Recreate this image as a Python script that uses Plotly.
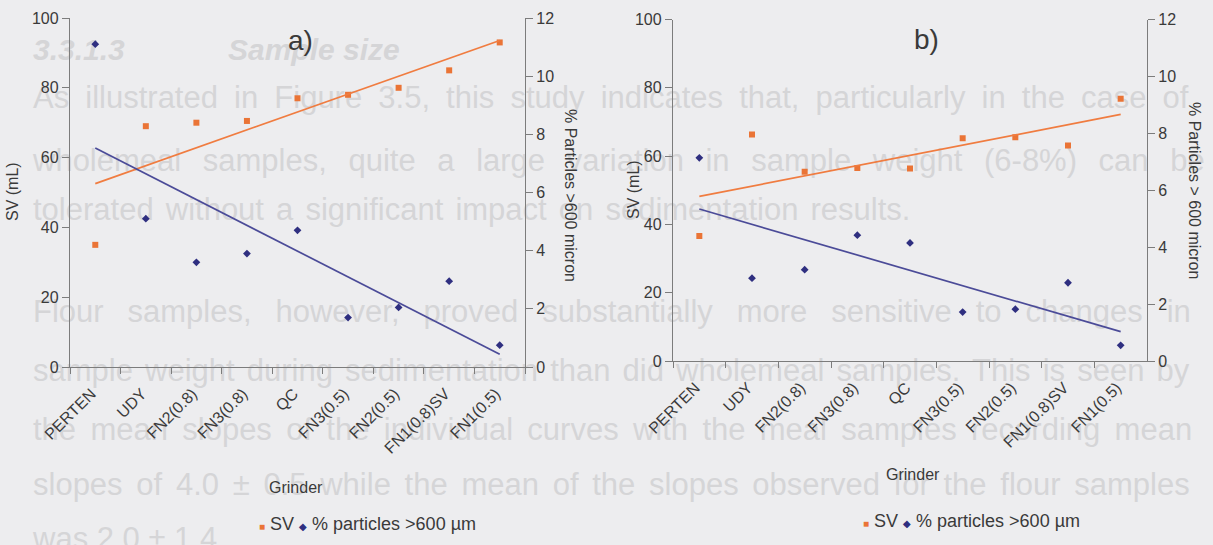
import numpy as np
import plotly.graph_objects as go

# ---- data -------------------------------------------------------------
categories = ["PERTEN", "UDY", "FN2(0.8)", "FN3(0.8)", "QC",
              "FN3(0.5)", "FN2(0.5)", "FN1(0.8)SV", "FN1(0.5)"]

# a) wholemeal
sv_a = [35, 69, 70, 70.5, 77, 78, 80, 85, 93]
pct_a = [11.1, 5.1, 3.6, 3.9, 4.7, 1.7, 2.05, 2.95, 0.75]

# b) flour
sv_b = [36.6, 66.3, 55.4, 56.5, 56.4, 65.2, 65.5, 63.1, 76.8]
pct_b = [7.14, 2.91, 3.21, 4.42, 4.15, 1.72, 1.82, 2.75, 0.55]

sv_ticks = [0, 20, 40, 60, 80, 100]
pct_ticks = [0, 2, 4, 6, 8, 10, 12]

# page text printed behind the figure (line, extra word spacing in px)
page_lines = [
    "As illustrated in Figure 3.5, this study indicates that, particularly in the case of",
    "wholemeal samples, quite a large variation in sample weight (6-8%) can be",
    "tolerated without a significant impact on sedimentation results.",
    "Flour samples, however, proved substantially more sensitive to changes in",
    "sample weight during sedimentation than did wholemeal samples. This is seen by",
    "the mean slopes of the individual curves with the meal samples recording mean",
    "slopes of 4.0 \u00b1 0.5 while the mean of the slopes observed for the flour samples",
    "was 2.0 \u00b1 1.4",
]
page_word_gap = [7.5, 13, 3.5, 15.3, 3.5, 5.7, 5.1, 0]
page_line_y = [100, 163, 212, 314, 373, 432, 487, 541]

# ---- style ------------------------------------------------------------
W, H = 1213, 545
BG = "#EDEDEF"
ORANGE = "#EA7436"
ORANGE_LINE = "#F07C40"
NAVY = "#2F2F80"
NAVY_LINE = "#4B4B98"
AXIS = "#7C7C7C"
TXT = "#3A3A3A"
GHOST = "#D5D5D7"
FONT = "Liberation Sans, Arial, sans-serif"


def trend(values):
    idx = np.arange(len(values))
    k, b = np.polyfit(idx, values, 1)
    return [b, k * (len(values) - 1) + b]


fig = go.Figure()

# background page text (drawn on the first, full-page subplot so it sits underneath)
fig.add_trace(go.Scatter(
    x=[33] * len(page_lines), y=page_line_y,
    text=[f"<span style='word-spacing:{g}px'>{t}</span>" if g else t
          for t, g in zip(page_lines, page_word_gap)],
    mode="text", textposition="middle right",
    textfont=dict(family=FONT, size=31, color=GHOST),
    xaxis="x", yaxis="y", showlegend=False, hoverinfo="skip"))
fig.add_trace(go.Scatter(
    x=[33, 228], y=[52, 52],
    text=["<b><i>3.3.1.3</i></b>", "<b><i>Sample size</i></b>"],
    mode="text", textposition="middle right",
    textfont=dict(family=FONT, size=30, color=GHOST),
    xaxis="x", yaxis="y", showlegend=False, hoverinfo="skip"))

panels = [
    dict(sv=sv_a, pct=pct_a, xa="x2", ya="y2", yb="y3"),
    dict(sv=sv_b, pct=pct_b, xa="x3", ya="y4", yb="y5"),
]

for p in panels:
    fig.add_trace(go.Scatter(
        x=categories, y=p["sv"], mode="markers", name="SV",
        marker=dict(symbol="square", size=6, color=ORANGE),
        xaxis=p["xa"], yaxis=p["ya"], showlegend=False))
    fig.add_trace(go.Scatter(
        x=[categories[0], categories[-1]], y=trend(p["sv"]), mode="lines",
        line=dict(color=ORANGE_LINE, width=1.7),
        xaxis=p["xa"], yaxis=p["ya"], showlegend=False))
    fig.add_trace(go.Scatter(
        x=categories, y=p["pct"], mode="markers", name="% particles >600 \u00b5m",
        marker=dict(symbol="diamond", size=6, color=NAVY),
        xaxis=p["xa"], yaxis=p["yb"], showlegend=False))
    fig.add_trace(go.Scatter(
        x=[categories[0], categories[-1]], y=trend(p["pct"]), mode="lines",
        line=dict(color=NAVY_LINE, width=1.7),
        xaxis=p["xa"], yaxis=p["yb"], showlegend=False))


def px_x(v):
    return v / W


def px_y(v):
    return 1 - v / H


x_common = dict(type="category", range=[-0.5, 8.5], tickson="boundaries",
                ticks="outside", ticklen=6, tickcolor=AXIS, tickwidth=1.2,
                showline=True, linecolor=AXIS, linewidth=1.3, showgrid=False,
                zeroline=False, tickangle=-45, automargin=False,
                ticklabelshift=-4, ticklabelstandoff=10,
                tickfont=dict(family=FONT, size=16, color=TXT),
                categoryorder="array", categoryarray=categories)
y_common = dict(ticks="outside", ticklen=7, tickcolor=AXIS, tickwidth=1.2,
                showline=True, linecolor=AXIS, linewidth=1.3, showgrid=False,
                zeroline=False, automargin=False,
                tickfont=dict(family=FONT, size=16, color=TXT))

dom_a_x = [px_x(70), px_x(525)]
dom_a_y = [px_y(367), px_y(18)]
dom_b_x = [px_x(673), px_x(1147)]
dom_b_y = [px_y(361), px_y(19.5)]

fig.update_layout(
    width=W, height=H,
    margin=dict(l=0, r=0, t=0, b=0, pad=0, autoexpand=False),
    paper_bgcolor=BG, plot_bgcolor="rgba(0,0,0,0)",
    font=dict(family=FONT, color=TXT),
    xaxis=dict(domain=[0, 1], range=[0, W], visible=False, fixedrange=True,
               automargin=False),
    yaxis=dict(domain=[0, 1], range=[H, 0], visible=False, fixedrange=True,
               automargin=False),
    xaxis2=dict(domain=dom_a_x, anchor="y2", **x_common),
    yaxis2=dict(domain=dom_a_y, anchor="x2", range=[0, 100],
                tickvals=sv_ticks, **y_common),
    yaxis3=dict(overlaying="y2", anchor="x2", side="right", range=[0, 12],
                tickvals=pct_ticks, **y_common),
    xaxis3=dict(domain=dom_b_x, anchor="y4", **x_common),
    yaxis4=dict(domain=dom_b_y, anchor="x3", range=[0, 100],
                tickvals=sv_ticks, **y_common),
    yaxis5=dict(overlaying="y4", anchor="x3", side="right", range=[0, 12],
                tickvals=pct_ticks, **y_common),
    showlegend=False,
)

legend_text = (f"<span style='color:{ORANGE};font-size:10px'>\u25a0</span> SV "
               f"<span style='color:{NAVY};font-size:10px'>\u25c6</span> % particles >600 \u00b5m")

annotations = [
    # panel labels
    dict(x=300, y=40, text="a)", size=28),
    dict(x=926, y=39, text="b)", size=28),
    # axis titles
    dict(x=12, y=192, text="SV (mL)", size=16, angle=-90),
    dict(x=571, y=195, text="% Particles >600 micron", size=16, angle=90),
    dict(x=633, y=190, text="SV (mL)", size=16, angle=-90),
    dict(x=1195, y=190, text="% Particles > 600 micron", size=16, angle=90),
    dict(x=296, y=487, text="Grinder", size=16),
    dict(x=913, y=474, text="Grinder", size=16),
    # legends
    dict(x=367, y=524, text=legend_text, size=18),
    dict(x=971, y=521, text=legend_text, size=18),
]

fig.update_layout(annotations=[
    dict(xref="paper", yref="paper", x=px_x(a["x"]), y=px_y(a["y"]),
         text=a["text"], showarrow=False, textangle=a.get("angle", 0),
         xanchor="center", yanchor="middle",
         font=dict(family=FONT, size=a["size"], color=TXT))
    for a in annotations
])

fig.write_html("out.html")
